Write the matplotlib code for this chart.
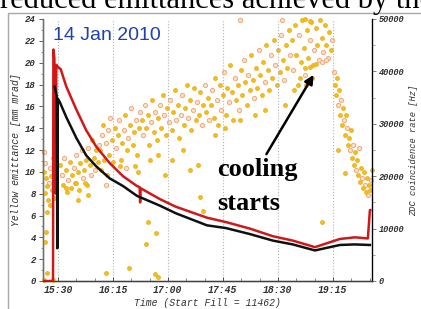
import matplotlib
matplotlib.use("Agg")
import matplotlib.pyplot as plt
from matplotlib.ticker import FixedLocator, MultipleLocator, FuncFormatter
from matplotlib.patches import Rectangle

# time in minutes after 15:00
red_t = [17.7, 25.9, 26.2, 27.0, 28.2, 28.6, 30.0, 32.2, 36.8, 45.0, 53.1, 61.3, 72.3, 83.2, 94.6,
         96.8, 97.2, 97.6, 113.4, 126.5, 151.9, 167.4, 187.0, 205.9, 222.2, 240.3, 260.7, 273.0,
         283.6, 285.3, 285.6]
red_v = [0, 0, 21.2, 20.4, 8.0, 19.8, 19.6, 19.4, 17.8, 15.7, 13.8, 12.3, 10.8, 9.6, 8.7,
         8.6, 7.2, 8.5, 7.5, 6.8, 5.8, 5.4, 4.8, 4.1, 3.7, 3.1, 3.85, 4.0,
         3.9, 6.5, 6.5]

black_t = [27.3, 29.0, 29.4, 29.8, 31.4, 36.8, 45.0, 53.1, 61.3, 72.3, 83.2, 94.6, 113.4, 126.5,
           151.9, 167.4, 187.0, 205.9, 222.2, 240.3, 260.7, 273.0, 285.3]
black_v = [17.8, 16.9, 3.0, 16.7, 16.4, 15.0, 13.1, 11.5, 10.5, 9.4, 8.7, 7.8, 6.9, 6.2,
           5.1, 4.85, 4.3, 3.7, 3.35, 2.8, 3.3, 3.35, 3.3]

# ZDC coincidence rate samples (two sample types)
gold_t = [18.6, 20.2, 21.0, 19.4, 21.8, 24.3, 25.1, 23.5, 21.0, 27.5, 28.4, 26.7, 20.2, 19.4, 21.0, 18.6, 25.9,
          31.6, 34.1, 36.5, 37.4, 39.8, 40.6, 41.5, 43.9, 46.4, 47.2, 48.0, 51.3, 52.9, 53.7, 56.2, 57.8, 59.4,
          61.1, 62.7, 36.5, 44.7, 52.1, 46.4, 54.5,
          64.4, 66.9, 67.7, 71.8, 74.2, 75.0, 76.7, 79.1, 81.6, 82.4, 84.9, 86.5, 89.0, 91.4, 92.2, 94.7, 96.3,
          65.2, 70.1, 80.8, 93.0, 95.5,
          98.8, 102.0, 103.7, 104.5, 106.9, 108.6, 111.0, 111.8, 114.3, 115.9, 118.4, 119.2, 123.3, 124.1, 125.8,
          128.2, 129.0, 133.1, 133.9, 135.6, 138.0, 138.8, 141.3, 142.9, 145.4, 146.2, 148.7, 151.1, 152.7,
          105.3, 111.8, 117.6, 123.3, 132.3, 138.0, 144.6,
          103.7, 110.2, 102.0, 109.4, 111.8, 69.3, 88.1, 146.2, 148.7,
          155.2, 157.7, 158.5, 160.9, 162.6, 165.0, 167.5, 168.3, 170.7, 172.4, 173.2, 175.6, 177.3, 179.7, 180.6,
          183.0, 184.6, 187.1, 187.9, 189.6, 192.0, 192.8, 195.3, 196.9, 197.7, 200.2, 201.8, 202.6, 205.1, 206.7,
          209.2, 210.0, 211.6, 214.1, 216.5, 217.4, 219.0, 158.5, 166.7, 178.9, 191.2, 199.4, 215.7,
          221.5, 223.9, 224.7, 226.4, 228.8, 229.6, 231.3, 233.7, 234.5, 237.0, 238.6, 241.1, 241.9, 244.4, 246.0,
          248.5, 249.3, 251.7, 253.4, 228.0, 232.9, 237.8, 223.1, 246.0, 232.1, 236.2, 232.1, 236.2, 241.1,
          256.6, 257.4, 258.3, 259.9, 260.7, 262.4, 263.2, 264.8, 265.6, 267.3, 268.1, 269.7, 270.5, 272.2, 273.0,
          274.6, 275.4, 277.1, 277.9, 279.5, 280.4, 282.0, 282.8, 284.4, 285.3, 286.9, 259.1, 264.8]
gold_hz = [20800, 19700, 18100, 16800, 15500, 20000, 17400, 14500, 13200, 20800, 18300, 15800, 9400, 7400, 1500, 200, 200,
           22100, 18300, 21200, 17000, 22700, 17700, 20200, 18700, 20800, 17400, 22500, 21200, 23100, 18300, 22100,
           26900, 23500, 25000, 22700, 17700, 18700, 18700, 15500, 16400,
           25000, 29800, 23100, 24000, 26900, 22700, 29200, 27900, 23100, 26300, 31700, 25000, 29800, 25900, 28400,
           24000, 29200, 21200, 20200, 21900, 21900, 20800,
           30700, 29200, 31700, 25900, 34500, 28400, 26900, 31100, 29200, 35500, 27900, 33000, 28800, 32200, 36400,
           33600, 27300, 29800, 33000, 37400, 34500, 28800, 36800, 30700, 31700, 36100, 33600, 32200, 34900,
           23100, 24000, 20200, 23100, 25000, 21200, 22100,
           11300, 9200, 7100, 1300, 800, 1500, 2500, 16000, 13400,
           33600, 31100, 38700, 29800, 37400, 35500, 31700, 36800, 41200, 36100, 30700, 34500, 37400, 40300, 35500,
           38000, 33600, 36400, 43100, 38400, 40600, 36800, 39300, 35500, 41800, 45000, 40300, 36400, 38700, 46000,
           37400, 44100, 39900, 42200, 45000, 40600, 47900, 27900, 29200, 30700, 31700, 32600, 33600,
           46000, 48800, 43100, 37400, 41800, 49800, 44500, 47900, 42500, 49400, 41200, 48300, 45000, 49800, 46400,
           48800, 45000, 47500, 44100, 38700, 37400, 38700, 36400, 11300, 50000, 49600, 40600, 40800, 41400,
           37400, 35500, 38700, 36400, 31700, 29800, 33000, 27900, 31700, 25900, 27300, 28800, 23500, 22100, 24600,
           23100, 20200, 18900, 21600, 17700, 20800, 17000, 19700, 18300, 17400, 21200, 25000, 20600]

pale_t = [18.6, 19.4, 23.5, 22.6, 25.9,
          33.3, 34.9, 38.2, 43.1, 44.7, 49.6, 50.5, 54.5, 57.0, 60.3, 63.5, 69.3,
          66.0, 69.3, 70.9, 72.6, 77.5, 79.9, 84.0, 87.3, 89.8, 93.8, 97.1, 85.7,
          99.6, 101.2, 106.1, 109.4, 113.5, 116.8, 120.8, 121.7, 126.6, 130.7, 131.5, 136.4, 140.5, 143.7, 147.8,
          150.3, 153.6,
          156.0, 160.1, 163.4, 165.8, 169.9, 174.8, 178.1, 182.2, 185.5, 190.4, 194.5, 199.4, 204.3, 207.6, 212.5,
          214.9, 219.8, 178.9, 213.3,
          222.3, 227.2, 232.1, 236.2, 239.5, 243.5, 246.8, 250.9, 254.2, 246.0, 249.3,
          255.8, 259.1, 261.5, 264.0, 266.5, 268.9, 271.3, 273.8, 276.3, 278.7, 281.2, 283.6, 286.1]
pale_hz = [24600, 22500, 21600, 18700, 23500,
           20200, 23500, 19300, 21600, 24000, 25000, 19700, 25400, 20200, 21200, 25900, 18300,
           27900, 26300, 28800, 31100, 25400, 30700, 28800, 27300, 33000, 30700, 32200, 21600,
           27900, 33600, 30300, 32200, 33600, 31700, 30300, 34500, 30700, 31700, 35500, 31100, 32600, 34200, 29800,
           37400, 30700,
           36400, 34500, 32600, 39900, 34200, 38700, 32600, 42200, 39300, 34900, 44100, 38000, 43100, 41200, 46900,
           38400, 43100, 49800, 49900,
           40300, 46900, 39300, 46000, 44100, 42200, 43700, 42500, 46000, 41800, 42200,
           39900, 33600, 34500, 30700, 29200, 25000, 25900, 21200, 25400, 19700, 18300, 16400, 19300]

time_ticks = [30, 75, 120, 165, 210, 255]

fig = plt.figure(figsize=(4.21, 3.09), dpi=100)
fig.patch.set_facecolor("white")

# clipped caption line above the picture and the picture frame
fig.text(0.0, 1 - 8 / 309, "reduced emittances achieved by the", fontsize=22,
         family="Liberation Serif", va="baseline", ha="left")
fig.add_artist(Rectangle((8 / 421, -0.05), 1.0, (309 - 13) / 309 + 0.05, transform=fig.transFigure,
                         fill=False, edgecolor="#a8a8a8", lw=1.0))

ax = fig.add_axes([43 / 421, 1 - 281 / 309, (372 - 43) / 421, (281 - 19) / 309])
ax2 = ax.twinx()
ax.set_zorder(ax2.get_zorder() + 1)
ax.patch.set_visible(False)

ax2.scatter(pale_t, pale_hz, s=9, marker="o", facecolor="#fbe3cf", edgecolor="#efb084",
            linewidths=0.8, clip_on=False, zorder=2)
ax2.scatter(gold_t, gold_hz, s=8, marker="o", facecolor="#f4c010", edgecolor="#eaa818",
            linewidths=0.5, clip_on=False, zorder=3)

ax.plot(red_t, red_v, color="#d01818", lw=1.8, zorder=4)
ax.plot(black_t, black_v, color="#101010", lw=1.8, zorder=4)

ax.set_xlim(17.7, 287)
ax.set_ylim(0, 24)
ax2.set_ylim(0, 50000)

ax.xaxis.set_major_locator(FixedLocator(time_ticks))
ax.xaxis.set_minor_locator(MultipleLocator(15))
ax.xaxis.set_major_formatter(FuncFormatter(lambda v, p: f"{15 + int(v) // 60}:{int(v) % 60:02d}"))
ax.yaxis.set_major_locator(MultipleLocator(2))
ax.yaxis.set_minor_locator(MultipleLocator(1))
ax2.yaxis.set_major_locator(MultipleLocator(10000))
ax2.yaxis.set_minor_locator(MultipleLocator(5000))

ax.grid(axis="x", which="major", linestyle=":", color="#b4b4b4", lw=0.8)

for a in (ax, ax2):
    for s in a.spines.values():
        s.set_linewidth(0.9)
    a.spines["top"].set_visible(False)
ax.spines["left"].set_color("#707070")
ax.spines["bottom"].set_color("#404040")
ax2.spines["right"].set_color("#909090")

ax.tick_params(axis="y", which="major", length=3, width=0.7, color="#606060", pad=2)
ax.tick_params(axis="y", which="minor", length=1.8, width=0.6, color="#808080")
ax.tick_params(axis="x", which="major", direction="in", length=3, width=0.7, color="#505050", pad=3)
ax.tick_params(axis="x", which="minor", direction="in", length=2, width=0.6, color="#707070")
ax2.tick_params(axis="y", which="major", length=3, width=0.7, color="#808080", pad=2)
ax2.tick_params(axis="y", which="minor", length=1.8, width=0.6, color="#909090")

for lab in ax.get_xticklabels():
    lab.set(family="Liberation Mono", weight="bold", style="italic", size=7, color="#303030")
for lab in ax.get_yticklabels():
    lab.set(family="Liberation Mono", weight="bold", style="italic", size=6.5, color="#303030")
for lab in ax2.get_yticklabels():
    lab.set(family="Liberation Mono", weight="bold", style="italic", size=6.2, color="#303030")

ax.set_xlabel("Time (Start Fill = 11462)", family="Liberation Mono", style="italic",
              size=7, color="#303030", labelpad=2)
ax.set_ylabel("Yellow emittance [mm mrad]", family="Liberation Mono", style="italic",
              size=7, color="#303030", labelpad=3)
ax2.set_ylabel("ZDC coincidence rate [Hz]", family="Liberation Mono", style="italic",
               size=6.3, color="#303030", rotation=90, labelpad=3)

ax.text(0.030, 0.969, "14 Jan 2010", transform=ax.transAxes, ha="left", va="top",
        family="Liberation Sans", size=14, color="#2040b0", zorder=6)

ax.annotate("", xy=(240.3, 19.1), xytext=(199.4, 11.4),
            arrowprops=dict(arrowstyle="-|>", color="black", lw=1.8, mutation_scale=13), zorder=6)
ax.text(160.1, 9.6, "cooling", family="Liberation Serif", weight="bold", size=19,
        ha="left", va="baseline", zorder=6)
ax.text(160.1, 6.5, "starts", family="Liberation Serif", weight="bold", size=19,
        ha="left", va="baseline", zorder=6)

fig.savefig("out.png", dpi=100)
